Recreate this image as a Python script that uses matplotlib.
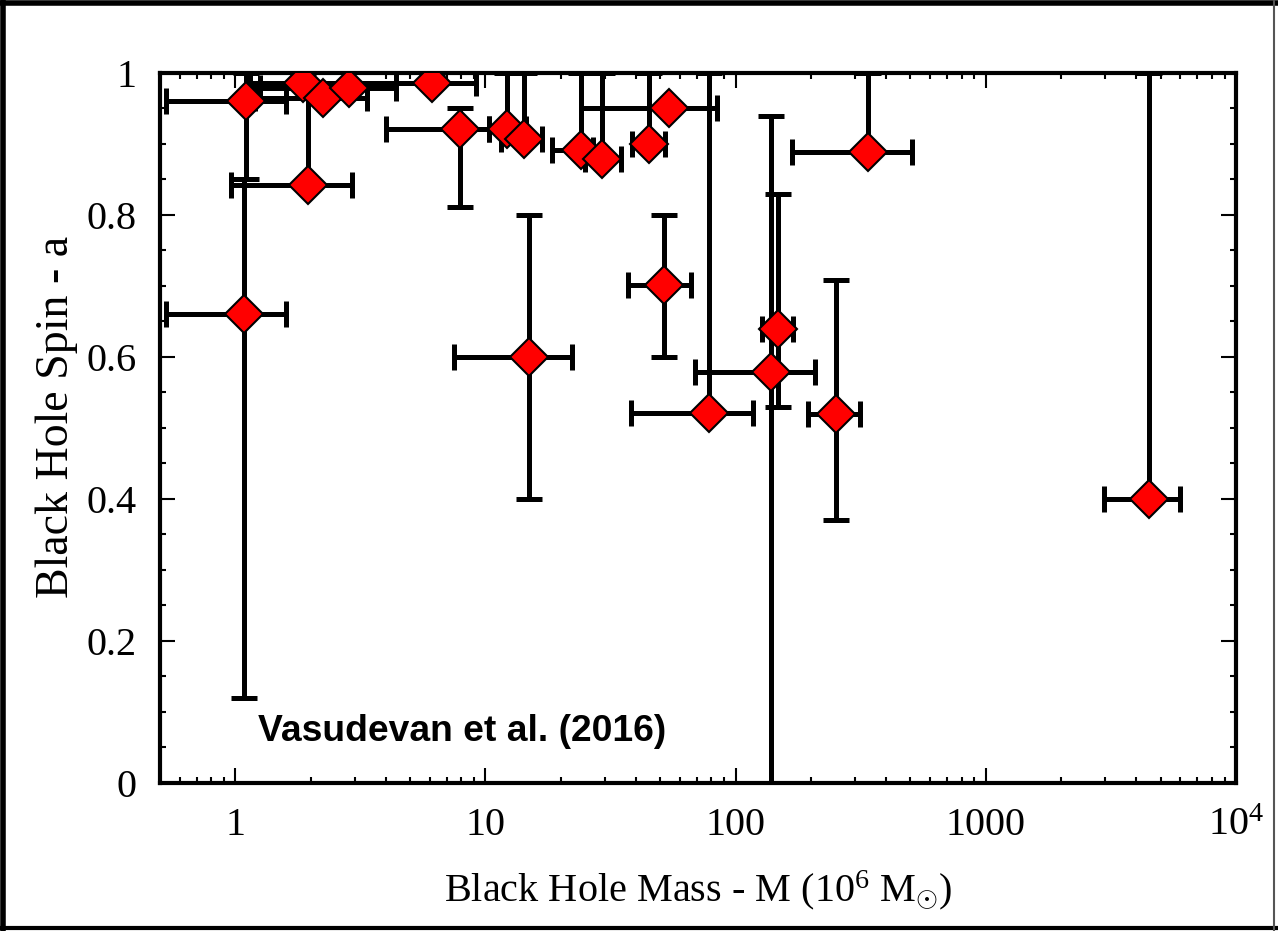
import matplotlib.pyplot as plt
import numpy as np
from matplotlib.ticker import LogLocator, MultipleLocator, NullFormatter
from matplotlib.lines import Line2D

plt.rcParams['font.family'] = ['Liberation Serif', 'DejaVu Serif']
plt.rcParams['mathtext.fontset'] = 'custom'
plt.rcParams['mathtext.rm'] = 'Liberation Serif'
plt.rcParams['mathtext.it'] = 'Liberation Serif:italic'

# black hole mass (10^6 Msun) with lower / upper bounds
mass = np.array([1.10, 1.08, 1.96, 1.86, 2.25, 2.84, 6.1, 7.9, 12.2, 14.3, 24.1,
                 29.2, 45.0, 54.4, 51.6, 14.9, 78.0, 138.0, 148.0, 252.0, 339.0, 4500.0])
mass_lo = np.array([0.53, 0.53, 0.96, 1.15, 1.2, 1.25, 4.4, 4.0, 10.3, 11.5, 18.5,
                    25.0, 38.5, 24.2, 37.3, 7.5, 38.0, 68.9, 128.0, 194.0, 168.7, 2960.0])
mass_hi = np.array([1.60, 1.60, 2.92, 4.4, 3.35, 4.4, 9.2, 10.3, 14.5, 16.8, 27.0,
                    34.8, 52.0, 84.6, 66.4, 22.2, 117.0, 208.0, 169.0, 314.0, 505.0, 5990.0])

# spin with lower / upper bounds
spin = np.array([0.96, 0.66, 0.842, 0.986, 0.965, 0.979, 0.986, 0.921, 0.921, 0.907, 0.891,
                 0.879, 0.900, 0.950, 0.701, 0.60, 0.521, 0.579, 0.64, 0.52, 0.889, 0.40])
spin_lo = np.array([0.85, 0.12, 0.842, 0.986, 0.965, 0.979, 0.986, 0.811, 0.921, 0.907, 0.891,
                    0.879, 0.900, 0.950, 0.60, 0.40, 0.521, 0.0, 0.53, 0.37, 0.889, 0.40])
spin_hi = np.array([1.0, 0.85, 0.98, 1.0, 0.965, 0.979, 1.0, 0.951, 1.0, 1.0, 1.0,
                    1.0, 1.0, 0.950, 0.80, 0.80, 1.0, 0.94, 0.83, 0.709, 1.0, 1.0])

xerr = [mass - mass_lo, mass_hi - mass]
yerr = [spin - spin_lo, spin_hi - spin]

fig = plt.figure(figsize=(12.78, 9.31), dpi=100)
ax = fig.add_axes([0.1252, 0.159, 0.8419, 0.7626])

ax.errorbar(mass, spin, xerr=xerr, yerr=yerr, fmt='none', ecolor='black',
            elinewidth=3.6, capsize=9.5, capthick=3.6, zorder=2)
ax.plot(mass, spin, ls='none', marker='D', ms=19.5, mfc='#ff0000',
        mec='black', mew=1.5, zorder=3)

ax.set_xscale('log')
ax.set_xlim(0.5, 1e4)
ax.set_ylim(0, 1)

ax.set_xticks([1, 10, 100, 1000, 1e4])
ax.set_xticklabels(['1', '10', '100', '1000', '10$^{4}$'])
ax.xaxis.set_minor_locator(LogLocator(base=10, subs=np.arange(2, 10)))
ax.xaxis.set_minor_formatter(NullFormatter())
ax.set_yticks([0, 0.2, 0.4, 0.6, 0.8, 1.0])
ax.set_yticklabels(['0', '0.2', '0.4', '0.6', '0.8', '1'])
ax.yaxis.set_minor_locator(MultipleLocator(0.05))

ax.tick_params(which='both', direction='in', top=True, right=True, width=1.5, labelsize=29)
ax.tick_params(which='major', length=11, pad=17)
ax.tick_params(which='minor', length=4)
for s in ax.spines.values():
    s.set_linewidth(3)

ax.set_xlabel('Black Hole Mass - M (10$^{6}$ M$_{\\odot}$)', fontsize=29, labelpad=18)
ax.set_ylabel('Black Hole Spin - a', fontsize=33, labelpad=6)
ax.yaxis.label.set_y(0.515)

ax.text(0.091, 0.073, 'Vasudevan et al. (2016)', transform=ax.transAxes,
        family='Liberation Sans', fontweight='bold', fontsize=26.8,
        ha='left', va='center')

# frame around the whole figure
for xs, ys, lw, c in [([0.002, 0.002], [0, 1], 4, 'black'),
                      ([0, 1], [0.997, 0.997], 4, 'black'),
                      ([0, 1], [0.003, 0.003], 3, 'black'),
                      ([0.997, 0.997], [0, 1], 1.5, '#555555')]:
    fig.add_artist(Line2D(xs, ys, transform=fig.transFigure, lw=lw, color=c))

fig.savefig('out.png', dpi=100)
